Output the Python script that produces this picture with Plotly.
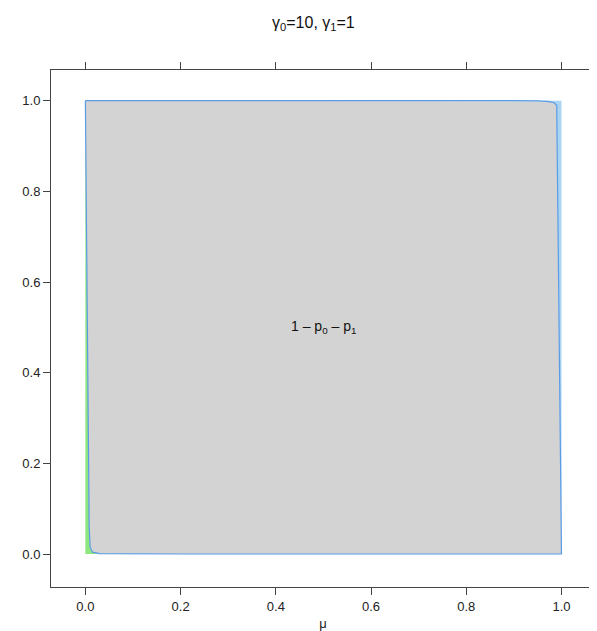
import plotly.graph_objects as go

# data: mixture probabilities versus mu (gamma0=10, gamma1=1)
mu = [0.0, 0.002, 0.004, 0.006, 0.008, 0.010, 0.015, 0.03, 0.1, 0.2, 0.3, 0.4, 0.5,
      0.6, 0.7, 0.8, 0.9, 0.95, 0.97, 0.98, 0.985, 0.99, 0.993, 0.996, 0.998, 1.0]
p0 = [1.0, 0.76, 0.52, 0.28, 0.06, 0.015, 0.004, 0.001, 0.0, 0.0, 0.0, 0.0, 0.0,
      0.0, 0.0, 0.0, 0.0, 0.0, 0.0, 0.0, 0.0, 0.0, 0.0, 0.0, 0.0, 0.0]
p1 = [0.0, 0.0, 0.0, 0.0, 0.0, 0.0, 0.0, 0.0, 0.0, 0.0, 0.0, 0.0, 0.0,
      0.0, 0.0, 0.0, 0.0, 0.0005, 0.0015, 0.003, 0.005, 0.01, 0.3, 0.6, 0.8, 1.0]
x_ticks = [0.0, 0.2, 0.4, 0.6, 0.8, 1.0]
y_ticks = [0.0, 0.2, 0.4, 0.6, 0.8, 1.0]
title_text = "γ<sub>0</sub>=10, γ<sub>1</sub>=1"
region_label = "1 – p<sub>0</sub> – p<sub>1</sub>"
x_label = "μ"

upper = [1 - v for v in p1]
ones = [1.0 for _ in mu]

FONT = "Liberation Sans, Arial, Helvetica, sans-serif"
GREEN = "#8ee67e"
GRAY = "#d3d3d3"
LBLUE = "#a9d4f2"
LINE = "#5b9be6"

fig = go.Figure()
fig.add_trace(go.Scatter(x=mu, y=p0, mode="lines", line=dict(width=0),
                         fill="tozeroy", fillcolor=GREEN, hoverinfo="skip", showlegend=False))
fig.add_trace(go.Scatter(x=mu, y=upper, mode="lines", line=dict(width=0),
                         fill="tonexty", fillcolor=GRAY, hoverinfo="skip", showlegend=False))
fig.add_trace(go.Scatter(x=mu, y=ones, mode="lines", line=dict(width=0),
                         fill="tonexty", fillcolor=LBLUE, hoverinfo="skip", showlegend=False))
# outline of the middle region
ox = mu + mu[::-1]
oy = p0 + upper[::-1]
fig.add_trace(go.Scatter(x=ox, y=oy, mode="lines", line=dict(color=LINE, width=1.2),
                         hoverinfo="skip", showlegend=False))

fig.add_annotation(x=0.5, y=0.5, xref="x", yref="y", text=region_label, showarrow=False,
                   font=dict(family=FONT, size=14, color="#111"))
fig.add_annotation(x=0.482, y=1 + (62 - 15) / 517, xref="paper", yref="paper", yanchor="middle",
                   text=title_text, showarrow=False,
                   font=dict(family=FONT, size=16, color="#111"))

axis_common = dict(showgrid=False, zeroline=False, showline=True, linecolor="#444", linewidth=1,
                   mirror="ticks", ticks="outside", ticklen=7, tickwidth=1, tickcolor="#444",
                   tickfont=dict(family=FONT, size=13, color="#222"))

fig.update_layout(
    width=597, height=631,
    margin=dict(l=43, r=2, t=62, b=52),
    paper_bgcolor="white", plot_bgcolor="white",
    font=dict(family=FONT, size=13, color="#222"),
    xaxis=dict(range=[-0.0722, 1.0704], tickvals=x_ticks, ticktext=[f"{v:.1f}" for v in x_ticks],
               title=dict(text=x_label, font=dict(family=FONT, size=13, color="#222"), standoff=6),
               **axis_common),
    yaxis=dict(range=[-0.0728, 1.0677], tickvals=y_ticks, ticktext=[f"{v:.1f}" for v in y_ticks],
               **axis_common),
)

fig.write_html("out.html")
